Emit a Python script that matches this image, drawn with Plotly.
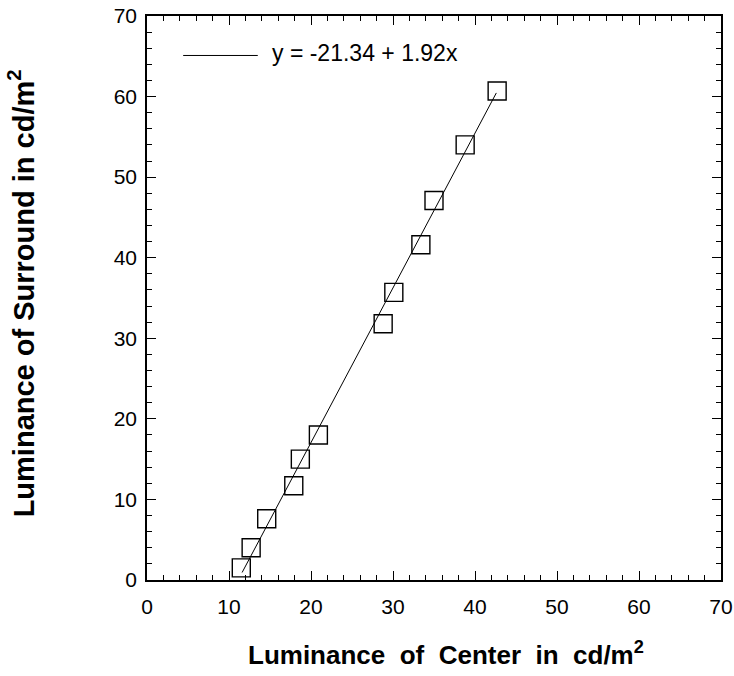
import plotly.graph_objects as go

# Data
center = [11.5, 12.7, 14.6, 17.9, 18.7, 20.9, 28.8, 30.1, 33.4, 35.0, 38.8, 42.7]
surround = [1.5, 4.0, 7.6, 11.7, 15.0, 18.0, 31.8, 35.7, 41.6, 47.1, 54.0, 60.7]
fit_intercept = -21.34
fit_slope = 1.92
fit_x = [11.6, 42.6]
fit_y = [fit_intercept + fit_slope * v for v in fit_x]
fit_label = "y = -21.34 + 1.92x"
tick_vals = [0, 10, 20, 30, 40, 50, 60, 70]
x_title = "Luminance of Center in cd/m<sup>2</sup>"
y_title = "Luminance of Surround in cd/m<sup>2</sup>"

FONT = "Liberation Sans, Arial, Helvetica, sans-serif"

fig = go.Figure()
fig.add_trace(go.Scatter(
    x=fit_x, y=fit_y, mode="lines",
    line=dict(color="black", width=1),
    name=fit_label, showlegend=False,
))
fig.add_trace(go.Scatter(
    x=center, y=surround, mode="markers",
    marker=dict(symbol="square-open", size=18, color="black",
                line=dict(width=1.4, color="black")),
    showlegend=False,
))

axis_common = dict(
    range=[0, 70], tickvals=tick_vals, showline=True, linecolor="black",
    linewidth=1.5, mirror="ticks", ticks="inside", ticklen=9, tickwidth=1.3,
    tickcolor="black", showgrid=False, zeroline=False, automargin=False,
    tickfont=dict(family=FONT, size=21, color="black"),
    minor=dict(dtick=2, ticks="inside", ticklen=5, tickcolor="black",
               tickwidth=1, showgrid=False),
)

# legend drawn as a sample line + label (paper coordinates)
fig.add_shape(type="line", xref="paper", yref="paper",
              x0=0.063, x1=0.193, y0=0.930, y1=0.930,
              line=dict(color="black", width=1))
fig.add_annotation(xref="paper", yref="paper", x=0.215, y=0.934,
                   xanchor="left", yanchor="middle", showarrow=False,
                   text=fit_label, font=dict(family=FONT, size=23, color="black"))

nb = "\u00a0"
fig.add_annotation(xref="paper", yref="paper", x=0.521, y=-0.13,
                   xanchor="center", yanchor="middle", showarrow=False,
                   text="<b>" + x_title.replace(" ", nb * 2) + "</b>",
                   font=dict(family=FONT, size=26, color="black"))
fig.add_annotation(xref="paper", yref="paper", x=-0.218, y=0.508,
                   xanchor="center", yanchor="middle", showarrow=False,
                   textangle=-90,
                   text="<b>" + y_title + "</b>",
                   font=dict(family=FONT, size=29, color="black"))

fig.update_layout(
    width=734, height=676,
    margin=dict(l=147, r=13, t=16, b=96),
    plot_bgcolor="white", paper_bgcolor="white",
    showlegend=False,
    xaxis=dict(**axis_common, ticklabelstandoff=7),
    yaxis=dict(**axis_common, ticklabelstandoff=4),
)

fig.write_html("out.html",
               config={"displayModeBar": False},
               post_script="document.body.style.margin='0';document.body.style.overflow='hidden';")
